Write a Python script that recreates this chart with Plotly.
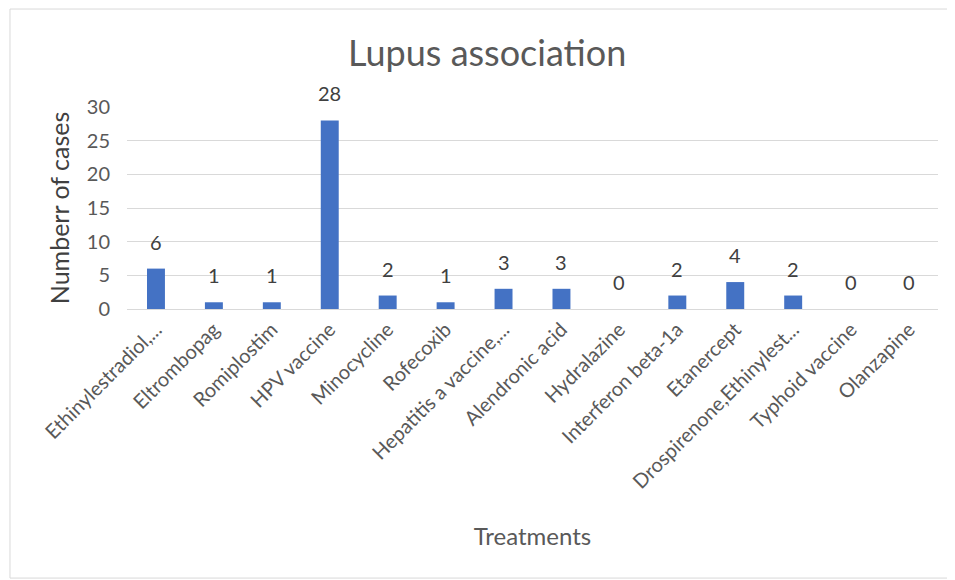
import plotly.graph_objects as go

categories = ["Ethinylestradiol,...", "Eltrombopag", "Romiplostim", "HPV vaccine",
              "Minocycline", "Rofecoxib", "Hepatitis a vaccine,...", "Alendronic acid",
              "Hydralazine", "Interferon beta-1a", "Etanercept",
              "Drospirenone,Ethinylest...", "Typhoid vaccine", "Olanzapine"]
cases = [6, 1, 1, 28, 2, 1, 3, 3, 0, 2, 4, 2, 0, 0]
y_ticks = [0, 5, 10, 15, 20, 25, 30]

FONT = "Lato"
fig = go.Figure()
fig.add_trace(go.Bar(x=categories, y=cases, marker_color="#4472C4",
                     marker_line_width=0, hoverinfo="x+y"))

annotations = []
for c, v in zip(categories, cases):
    annotations.append(dict(x=c, y=v, xref="x", yref="y", text=str(v),
                            showarrow=False, yanchor="bottom", yshift=13,
                            font=dict(family=FONT, size=20, color="#404040")))

fig.update_layout(
    width=947, height=572,
    margin=dict(l=119, r=17, t=99, b=271, autoexpand=False),
    paper_bgcolor="white", plot_bgcolor="white",
    bargap=0.69,
    showlegend=False,
    title=dict(text="Lupus association", x=0.506, xanchor="center",
               y=0.921, yanchor="middle",
               font=dict(family=FONT, size=36, color="#595959")),
    annotations=annotations,
    shapes=[dict(type="rect", xref="paper", yref="paper",
                 x0=-0.1443, x1=1.0148, y0=-1.332, y1=1.485,
                 line=dict(color="#d9d9d9", width=1), layer="below")],
    xaxis=dict(tickangle=-45, automargin=False,
               tickfont=dict(family=FONT, size=20, color="#595959"),
               showgrid=False, showline=True, linecolor="#d9d9d9", ticks="",
               title=dict(text="Treatments", standoff=36,
                          font=dict(family=FONT, size=24, color="#595959"))),
    yaxis=dict(range=[0, 30], tickvals=y_ticks, automargin=False,
               ticklabelstandoff=16,
               tickfont=dict(family=FONT, size=20, color="#595959"),
               showgrid=True, gridcolor="#d9d9d9", zeroline=False, ticks="",
               showline=False,
               title=dict(text="Numberr of cases", standoff=10,
                          font=dict(family=FONT, size=25, color="#404040"))),
)
fig.write_html("out.html")
